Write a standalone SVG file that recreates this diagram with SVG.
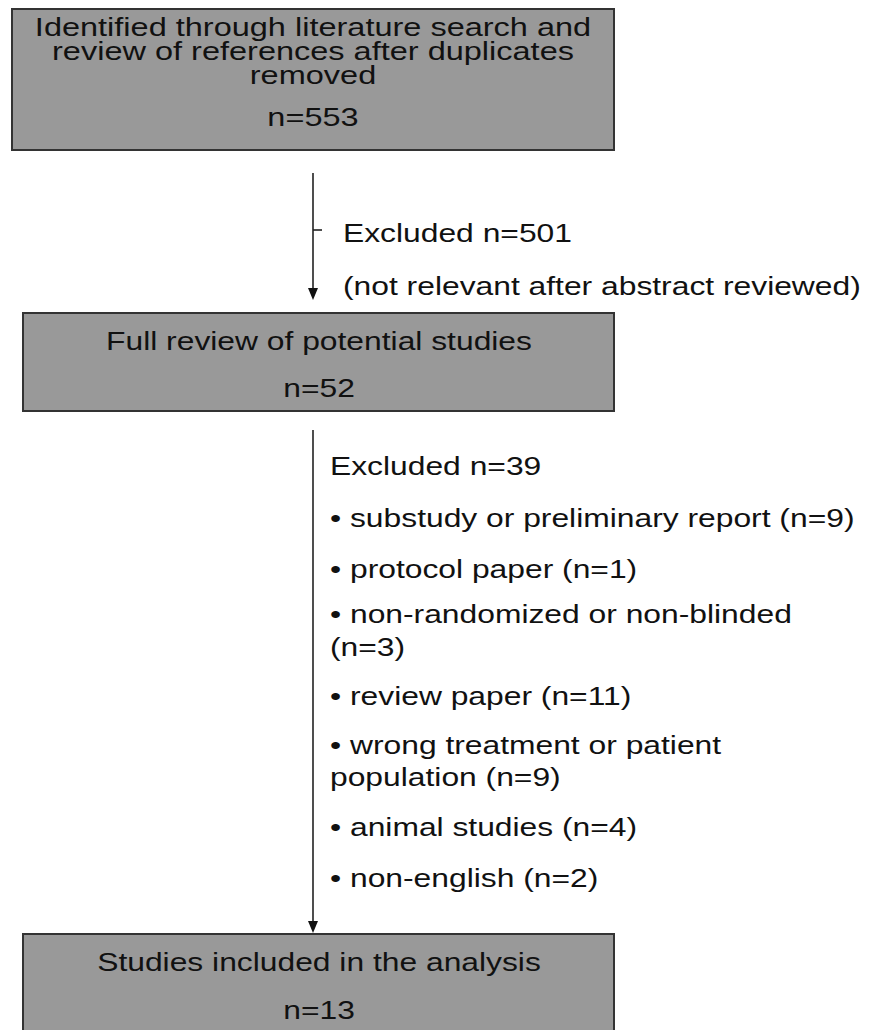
<svg xmlns="http://www.w3.org/2000/svg" width="869" height="1030" viewBox="0 0 869 1030">
<style>
.box{fill:#999999;stroke:#333333;stroke-width:2}
.t{font-family:"Liberation Sans",Arial,sans-serif;font-size:26.5px;fill:#111111}
.t1{font-family:"Liberation Sans",Arial,sans-serif;font-size:25px;fill:#111111}
.c{text-anchor:middle}
.ln{stroke:#222222;stroke-width:1.6;fill:none}
.ah{fill:#111111}
</style>
<rect width="869" height="1030" fill="#ffffff"/>
<g id="connectors">
<line class="ln" x1="313" y1="173" x2="313" y2="288"/>
<path class="ah" d="M308,288 L318,288 L313,300 Z"/>
<line class="ln" x1="313" y1="230" x2="322" y2="230"/>
<line class="ln" x1="313" y1="430" x2="313" y2="921"/>
<path class="ah" d="M308,921 L318,921 L313,933 Z"/>
</g>
<g id="node1">
<rect class="box" x="12" y="9" width="602" height="141"/>
<text class="t1 c" transform="translate(313,36) scale(1.3,1)">Identified through literature search and</text>
<text class="t1 c" transform="translate(313,60) scale(1.3,1)">review of references after duplicates</text>
<text class="t1 c" transform="translate(313,84) scale(1.3,1)">removed</text>
<text class="t1 c" transform="translate(313,126) scale(1.3,1)">n=553</text>
</g>
<g id="excl1">
<text class="t" transform="translate(343,242) scale(1.2,1)">Excluded n=501</text>
<text class="t" transform="translate(343,295) scale(1.2,1)">(not relevant after abstract reviewed)</text>
</g>
<g id="node2">
<rect class="box" x="23" y="313" width="591" height="98"/>
<text class="t c" transform="translate(319,350) scale(1.2,1)">Full review of potential studies</text>
<text class="t c" transform="translate(319,397) scale(1.2,1)">n=52</text>
</g>
<g id="excl2">
<text class="t" transform="translate(330,475) scale(1.2,1)">Excluded n=39</text>
<text class="t" transform="translate(330,527) scale(1.2,1)">• substudy or preliminary report (n=9)</text>
<text class="t" transform="translate(330,578) scale(1.2,1)">• protocol paper (n=1)</text>
<text class="t" transform="translate(330,623) scale(1.2,1)">• non-randomized or non-blinded</text>
<text class="t" transform="translate(330,656) scale(1.2,1)">(n=3)</text>
<text class="t" transform="translate(330,705) scale(1.2,1)">• review paper (n=11)</text>
<text class="t" transform="translate(330,754) scale(1.2,1)">• wrong treatment or patient</text>
<text class="t" transform="translate(330,786) scale(1.2,1)">population (n=9)</text>
<text class="t" transform="translate(330,836) scale(1.2,1)">• animal studies (n=4)</text>
<text class="t" transform="translate(330,887) scale(1.2,1)">• non-english (n=2)</text>
</g>
<g id="node3">
<rect class="box" x="23" y="934" width="591" height="110"/>
<text class="t c" transform="translate(319,971) scale(1.2,1)">Studies included in the analysis</text>
<text class="t c" transform="translate(319,1019) scale(1.2,1)">n=13</text>
</g>
</svg>
